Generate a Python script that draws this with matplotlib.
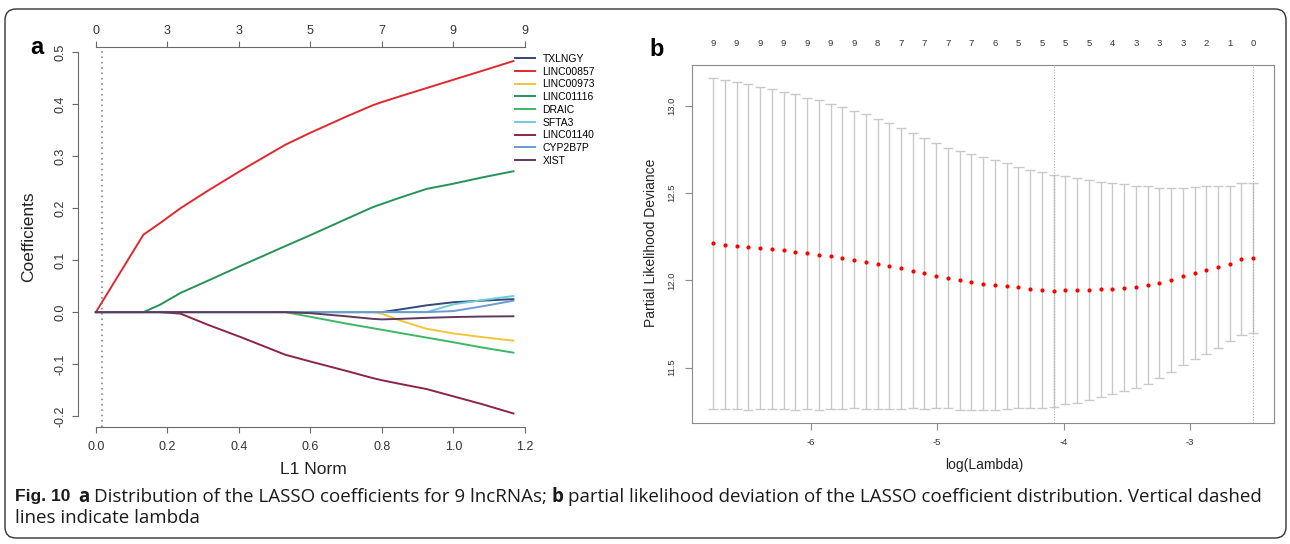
import matplotlib
matplotlib.use("Agg")
import matplotlib.pyplot as plt
from matplotlib.patches import FancyBboxPatch
from matplotlib.transforms import IdentityTransform

plt.rcParams['font.family'] = ['Liberation Sans', 'DejaVu Sans']

W, H = 1290, 544

# ---- panel a: LASSO coefficient paths (L1 norm knots) ----
l1_norm   = [0.0, 0.133, 0.179, 0.237, 0.312, 0.405, 0.53, 0.60, 0.70, 0.775, 0.80, 0.85, 0.925, 1.0, 1.08, 1.168]
TXLNGY    = [0, 0, 0, 0, 0, 0, 0, 0, 0, 0, 0, 0.005, 0.013, 0.019, 0.022, 0.025]
LINC00857 = [0, 0.149, 0.171, 0.200, 0.233, 0.272, 0.322, 0.345, 0.376, 0.398, 0.404, 0.415, 0.431, 0.447, 0.464, 0.483]
LINC00973 = [0, 0, 0, 0, 0, 0, 0, 0, 0, 0, -0.003, -0.016, -0.032, -0.041, -0.048, -0.055]
LINC01116 = [0, 0, 0.014, 0.037, 0.060, 0.089, 0.127, 0.148, 0.179, 0.202, 0.208, 0.220, 0.237, 0.247, 0.259, 0.271]
DRAIC     = [0, 0, 0, 0, 0, 0, 0, -0.009, -0.022, -0.031, -0.034, -0.040, -0.049, -0.058, -0.068, -0.078]
SFTA3     = [0, 0, 0, 0, 0, 0, 0, 0, 0, 0, 0, 0, 0, 0.015, 0.023, 0.031]
LINC01140 = [0, 0, 0, -0.003, -0.024, -0.048, -0.082, -0.095, -0.113, -0.127, -0.131, -0.138, -0.148, -0.162, -0.177, -0.195]
CYP2B7P   = [0, 0, 0, 0, 0, 0, 0, 0, 0, 0, 0, 0, 0, 0.002, 0.011, 0.022]
XIST      = [0, 0, 0, 0, 0, 0, 0, -0.002, -0.008, -0.013, -0.014, -0.013, -0.011, -0.0095, -0.0085, -0.008]

gene_names = ["TXLNGY", "LINC00857", "LINC00973", "LINC01116", "DRAIC",
              "SFTA3", "LINC01140", "CYP2B7P", "XIST"]
gene_paths = [TXLNGY, LINC00857, LINC00973, LINC01116, DRAIC,
              SFTA3, LINC01140, CYP2B7P, XIST]
gene_colors = ["#34487a", "#e0282e", "#f2c53d", "#279258", "#3cb864",
               "#6cccdc", "#8c2545", "#6b9bd2", "#5e3a5e"]
top_df_a = ["0", "3", "3", "5", "7", "9", "9"]
chosen_l1 = 0.017

# ---- panel b: cross-validation curve ----
log_lambda = [-6.770, -6.677, -6.584, -6.492, -6.399, -6.306, -6.213, -6.120, -6.027, -5.935,
              -5.842, -5.749, -5.656, -5.563, -5.470, -5.378, -5.285, -5.192, -5.099, -5.006,
              -4.913, -4.821, -4.728, -4.635, -4.542, -4.449, -4.356, -4.264, -4.171, -4.078,
              -3.985, -3.892, -3.799, -3.707, -3.614, -3.521, -3.428, -3.335, -3.242, -3.150,
              -3.057, -2.964, -2.871, -2.778, -2.685, -2.593, -2.500]
cvm = [12.213, 12.205, 12.199, 12.192, 12.186, 12.178, 12.172, 12.163, 12.155, 12.146,
       12.138, 12.128, 12.119, 12.107, 12.096, 12.083, 12.069, 12.056, 12.041, 12.027,
       12.014, 12.000, 11.991, 11.981, 11.974, 11.968, 11.960, 11.951, 11.945, 11.941,
       11.943, 11.943, 11.945, 11.949, 11.953, 11.958, 11.964, 11.972, 11.987, 12.002,
       12.023, 12.042, 12.060, 12.077, 12.096, 12.121, 12.128]
cvsd = [0.948, 0.944, 0.938, 0.933, 0.923, 0.917, 0.910, 0.904, 0.893, 0.889,
        0.875, 0.866, 0.852, 0.845, 0.831, 0.818, 0.805, 0.789, 0.776, 0.759,
        0.747, 0.742, 0.732, 0.724, 0.715, 0.703, 0.692, 0.684, 0.675, 0.665,
        0.654, 0.644, 0.633, 0.617, 0.606, 0.593, 0.579, 0.568, 0.545, 0.528,
        0.508, 0.493, 0.480, 0.464, 0.445, 0.436, 0.432]
nzero_top = ["9", "9", "9", "9", "9", "9", "9", "8", "7", "7", "7", "7",
             "6", "5", "5", "5", "5", "4", "3", "3", "3", "2", "1", "0"]
lambda_min = -4.078
lambda_1se = -2.500

caption_line1 = [("Fig. 10", "bold", 8), ("a", "bold", 4),
                 ("Distribution of the LASSO coefficients for 9 lncRNAs;", "normal", 5),
                 ("b", "bold", 4),
                 ("partial likelihood deviation of the LASSO coefficient distribution. Vertical dashed", "normal", 0)]
caption_line2 = "lines indicate lambda"


def frac(left, top, right, bottom):
    return [left / W, 1 - bottom / H, (right - left) / W, (bottom - top) / H]


fig = plt.figure(figsize=(W / 100, H / 100), dpi=100)

# ---------------- panel a ----------------
axc = "#6a6a6a"
ax = fig.add_axes(frac(78, 47, 532, 427))
for name, path, col in zip(gene_names, gene_paths, gene_colors):
    ax.plot(l1_norm, path, color=col, lw=1.4, label=name)
ax.axvline(chosen_l1, color="#777777", ls=(0, (1, 2.5)), lw=1.1)
ax.set_xlim(-0.05, 1.22)
ax.set_ylim(-0.221, 0.51)
ax.spines[['top', 'right']].set_visible(False)
ax.spines['left'].set_bounds(-0.2, 0.5)
ax.spines['bottom'].set_bounds(0, 1.2)
for s in ['left', 'bottom']:
    ax.spines[s].set_color(axc)
xt = [0, 0.2, 0.4, 0.6, 0.8, 1.0, 1.2]
ax.set_xticks(xt, ["%.1f" % v for v in xt])
yt = [-0.2, -0.1, 0.0, 0.1, 0.2, 0.3, 0.4, 0.5]
ax.set_yticks(yt, ["%.1f" % v for v in yt])
ax.tick_params(axis='x', direction='out', length=4, width=0.8, color=axc, labelsize=9,
               labelcolor="#333333", pad=6)
ax.tick_params(axis='y', direction='out', length=4, width=0.8, color=axc, labelsize=9,
               labelcolor="#333333", pad=4)
for lab in ax.get_yticklabels():
    lab.set_rotation(90)
    lab.set_va('center')
ax.set_xlabel("L1 Norm", fontsize=12.5, color="#222222")
ax.xaxis.set_label_coords((313 - 78) / 454, -(470 - 427) / 380)
ax.xaxis.label.set_va('center')
ax.set_ylabel("Coefficients", fontsize=12.5, color="#222222")
ax.yaxis.set_label_coords((29 - 78) / 454, 0.5)
ax.yaxis.label.set_va('center')

axt = ax.twiny()
axt.set_xlim(ax.get_xlim())
axt.spines[['left', 'right', 'bottom']].set_visible(False)
axt.spines['top'].set_bounds(0, 1.2)
axt.spines['top'].set_color(axc)
axt.set_xticks(xt, top_df_a)
axt.tick_params(direction='out', length=4, width=0.8, color=axc, labelsize=9,
                labelcolor="#333333", pad=3.5)

ax.legend(loc='upper left', bbox_to_anchor=(515 / W, 1 - 54 / H),
          bbox_transform=fig.transFigure, frameon=False, fontsize=7.5,
          borderpad=0, borderaxespad=0, labelspacing=0.26, handlelength=1.9,
          handletextpad=0.75)

fig.text(37 / W, 1 - 48 / H, "a", fontsize=17, fontweight='bold', ha='center', va='center')

# ---------------- panel b ----------------
bc = "#8a8a8a"
ec = "#c9c9c9"
bx = fig.add_axes(frac(692, 65, 1274, 423))
lower = [m - s for m, s in zip(cvm, cvsd)]
upper = [m + s for m, s in zip(cvm, cvsd)]
bx.vlines(log_lambda, lower, upper, color=ec, lw=1)
cap = 0.04
bx.hlines(upper, [x - cap for x in log_lambda], [x + cap for x in log_lambda], color=ec, lw=1)
bx.hlines(lower, [x - cap for x in log_lambda], [x + cap for x in log_lambda], color=ec, lw=1)
bx.scatter(log_lambda, cvm, s=9, color="red", zorder=3, linewidths=0)
for v in [lambda_min, lambda_1se]:
    bx.axvline(v, color="#aaaaaa", ls=(0, (1, 1.5)), lw=0.8)
bx.set_xlim(-6.937, -2.336)
bx.set_ylim(11.182, 13.235)
for s in bx.spines.values():
    s.set_color(bc)
bx.set_xticks([-6, -5, -4, -3], ["-6", "-5", "-4", "-3"])
bx.set_yticks([11.5, 12.0, 12.5, 13.0], ["11.5", "12.0", "12.5", "13.0"])
bx.tick_params(direction='out', length=5, width=0.8, color=bc, labelsize=6.8,
               labelcolor="#333333", pad=6)
for lab in bx.get_yticklabels():
    lab.set_rotation(90)
    lab.set_va('center')
bx.set_xlabel("log(Lambda)", fontsize=10, color="#222222")
bx.xaxis.set_label_coords(0.502, -(465 - 423) / 358)
bx.xaxis.label.set_va('center')
bx.set_ylabel("Partial Likelihood Deviance", fontsize=10, color="#222222")
bx.yaxis.set_label_coords((651 - 692) / 582, 0.503)
bx.yaxis.label.set_va('center')

bxt = bx.twiny()
bxt.set_xlim(bx.get_xlim())
for s in bxt.spines.values():
    s.set_visible(False)
bxt.set_xticks(log_lambda[::2], nzero_top)
bxt.tick_params(length=0, labelsize=6.8, labelcolor="#333333", pad=12)

fig.text(657 / W, 1 - 50 / H, "b", fontsize=17, fontweight='bold', ha='center', va='center')

# ---------------- caption & frame ----------------
r = fig.canvas.get_renderer()


def caption_runs(size, draw):
    x = 15
    items = []
    for txt, wt, gap in caption_line1:
        fam = ['Liberation Sans'] if txt.startswith("Fig") else ['Open Sans', 'DejaVu Sans']
        fs = size * 0.93 if txt.startswith("Fig") else size
        t = fig.text(x / W, 1 - 497 / H, txt, fontsize=fs, fontweight=wt, family=fam,
                     va='center', ha='left', color="#1a1a1a")
        x += t.get_window_extent(r).width + gap
        items.append(t)
    if not draw:
        for t in items:
            t.remove()
    return x


# scale caption so the first line ends where the reference line ends
base = 12
end = caption_runs(base, False)
cap_size = base * (1257 - 15) / (end - 15)
caption_runs(cap_size, True)
fig.text(15 / W, 1 - 518 / H, caption_line2, fontsize=cap_size, family=['Open Sans', 'DejaVu Sans'],
         va='center', ha='left', color="#1a1a1a")

frame = FancyBboxPatch((5, H - 538), 1281, 529, boxstyle="round,pad=0,rounding_size=11",
                       transform=IdentityTransform(), fill=False, ec="#333333", lw=1)
fig.add_artist(frame)

fig.savefig("out.png", dpi=100)
